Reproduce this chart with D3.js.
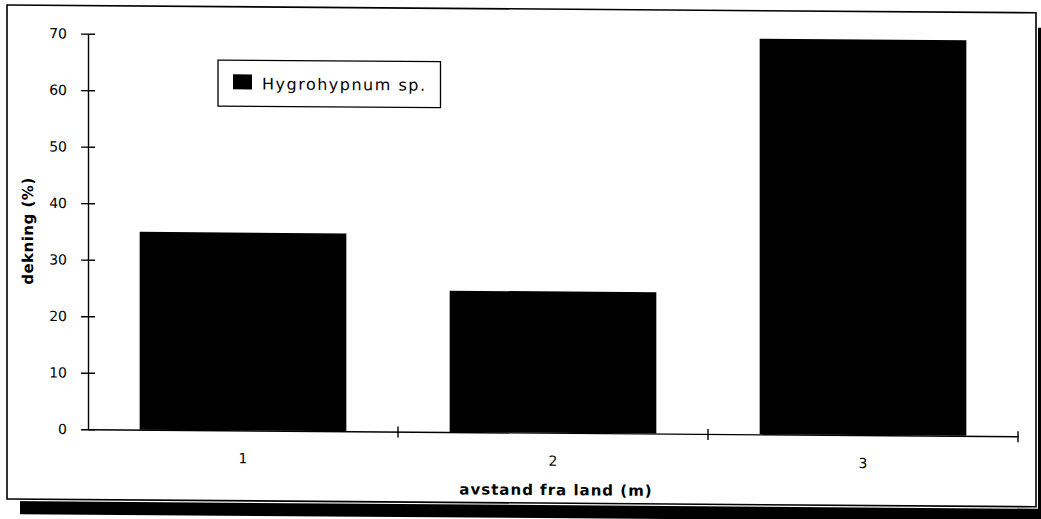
<!DOCTYPE html>
<html>
<head>
<meta charset="utf-8">
<script src="https://cdn.jsdelivr.net/npm/d3@7"></script>
<style>
  html, body { margin: 0; padding: 0; background: #fff; }
  svg { display: block; }
  text { font-family: "DejaVu Sans", sans-serif; fill: #000; }
</style>
</head>
<body>
<svg id="chart" width="1041" height="519"></svg>
<script>
// ---- data ----
const categories = ["1", "2", "3"];
const values = [35, 25, 70];
const seriesName = "Hygrohypnum sp.";
const yTicks = [0, 10, 20, 30, 40, 50, 60, 70];
const yTitle = "dekning (%)";
const xTitle = "avstand fra land (m)";

// ---- layout ----
const W = 1041, H = 519;
const k = 0.0075; // scan skew
const skewDeg = Math.atan(k) * 180 / Math.PI;
const plot = { left: 88, right: 1018, top: 33.0, bottom: 428.6 };

const svg = d3.select("#chart");
const root = svg.append("g").attr("transform", `skewY(${skewDeg})`);

// shadow + frame
const frame = { x: 7, y: 5, w: 1029, h: 494 };
root.append("rect").attr("x", frame.x + 13).attr("y", frame.y + 15)
  .attr("width", frame.w + 20).attr("height", frame.h)
  .attr("fill", "#000");
root.append("rect").attr("x", frame.x).attr("y", frame.y)
  .attr("width", frame.w + 2).attr("height", frame.h + 2)
  .attr("fill", "#fff");
root.append("rect").attr("x", frame.x).attr("y", frame.y)
  .attr("width", frame.w).attr("height", frame.h)
  .attr("fill", "none").attr("stroke", "#000").attr("stroke-width", 1.6);

// scales
const y = d3.scaleLinear().domain([0, 70]).range([plot.bottom, plot.top]);
const xAxisScale = d3.scaleBand().domain(categories).range([plot.left, plot.right]).padding(0);
const xBar = d3.scaleBand().domain(categories).range([plot.left, plot.right])
  .paddingInner(1 / 3).paddingOuter(1 / 6);

// bars
root.append("g").selectAll("rect").data(values).join("rect")
  .attr("x", (d, i) => xBar(categories[i]))
  .attr("width", xBar.bandwidth())
  .attr("y", d => y(d))
  .attr("height", d => y(0) - y(d))
  .attr("fill", "#000");

// y axis
const yAxis = root.append("g").attr("transform", `translate(${plot.left},0)`)
  .call(d3.axisLeft(y).tickValues(yTicks).tickSize(7).tickSizeOuter(0).tickPadding(14));
yAxis.select(".domain").attr("stroke", "#000").attr("stroke-width", 1.4);
yAxis.selectAll(".tick line").attr("x1", 7).attr("stroke-width", 1.4);
yAxis.selectAll(".tick text").attr("font-size", 14).style("font-family", '"DejaVu Sans", sans-serif');

// x axis (labels)
const xAxis = root.append("g").attr("transform", `translate(0,${y(0)})`)
  .call(d3.axisBottom(xAxisScale).tickSize(0).tickPadding(23));
xAxis.select(".domain").attr("stroke", "#000").attr("stroke-width", 1.4);
xAxis.selectAll(".tick text").attr("font-size", 14).style("font-family", '"DejaVu Sans", sans-serif');
// boundary ticks
const bounds = categories.map(c => xAxisScale(c) + xAxisScale.step());
xAxis.append("g").selectAll("line").data(bounds).join("line")
  .attr("x1", d => d).attr("x2", d => d).attr("y1", -5).attr("y2", 6)
  .attr("stroke", "#000").attr("stroke-width", 1.4);

// axis titles
root.append("text")
  .attr("transform", `translate(33,${(plot.top + plot.bottom) / 2}) rotate(-90)`)
  .attr("text-anchor", "middle")
  .attr("font-size", 15).attr("font-weight", "bold")
  .attr("letter-spacing", 0.5)
  .text(yTitle);
root.append("text")
  .attr("x", (plot.left + plot.right) / 2 + 3).attr("y", 491)
  .attr("text-anchor", "middle")
  .attr("font-size", 15).attr("font-weight", "bold")
  .attr("letter-spacing", 1)
  .text(xTitle);

// legend
const lg = root.append("g");
const lgBox = lg.append("rect").attr("x", 218).attr("y", 58.4).attr("height", 46)
  .attr("fill", "#fff").attr("stroke", "#000").attr("stroke-width", 1.3);
lg.append("rect").attr("x", 233).attr("y", 72.5).attr("width", 19).attr("height", 15).attr("fill", "#000");
const lt = lg.append("text").attr("x", 262).attr("y", 87.5)
  .attr("font-size", 16).attr("letter-spacing", 1.5).text(seriesName);
const tw = lt.node().getComputedTextLength();
lgBox.attr("width", 262 - 218 + tw + 14);
</script>
</body>
</html>
